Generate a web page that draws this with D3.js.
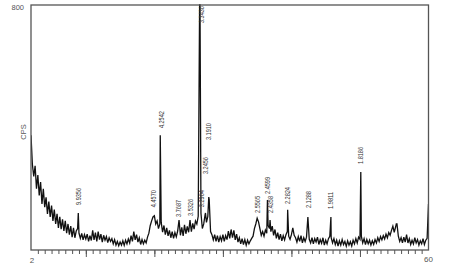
<!DOCTYPE html>
<html><head><meta charset="utf-8">
<script src="https://cdn.jsdelivr.net/npm/d3@7"></script>
<style>html,body{margin:0;padding:0;background:#fff;}svg{display:block;}</style>
</head><body>
<svg id="chart" width="453" height="266"></svg>
<script>
// ---- data (2θ in degrees, intensity in CPS) ----
const xDomain = [2, 60];
const yDomain = [0, 800];
const gridStart = 2, gridStep = 0.2;
// background pattern, one value every 0.2° (5 per degree)
const counts = [
 /*2*/ 375,280,240,275,200, /*3*/ 245,178,222,150,200, /*4*/ 140,172,118,158,108,
 /*5*/ 145,95,132,85,118, /*6*/ 72,108,68,100,62, /*7*/ 95,55,85,50,78,
 /*8*/ 42,72,40,62,70, /*9*/ 55,38,54,33,50, /*10*/ 36,52,28,47,31,
 /*11*/ 64,33,57,28,60, /*12*/ 34,52,26,48,32, /*13*/ 44,24,40,28,37,
 /*14*/ 20,34,16,28,14, /*15*/ 26,16,30,15,32, /*16*/ 20,36,23,47,28,
 /*17*/ 60,33,50,26,40, /*18*/ 18,34,20,32,23, /*19*/ 42,55,80,95,108,
 /*20*/ 112,85,95,70,85, /*21*/ 90,58,80,50,72, /*22*/ 46,64,40,60,38,
 /*23*/ 57,43,62,98,48, /*24*/ 74,46,82,53,77, /*25*/ 58,98,60,87,68,
 /*26*/ 95,85,110,800,120, /*27*/ 70,85,115,90,110, /*28*/ 165,60,50,33,50,
 /*29*/ 28,47,26,44,30, /*30*/ 50,28,47,34,62, /*31*/ 38,67,40,64,33,
 /*32*/ 52,26,40,20,37, /*33*/ 18,34,16,32,20, /*34*/ 30,38,45,70,85,
 /*35*/ 104,92,70,48,60, /*36*/ 45,65,55,80,70, /*37*/ 60,78,48,67,38,
 /*38*/ 57,34,52,30,47, /*39*/ 33,50,60,45,35, /*40*/ 50,72,48,40,26,
 /*41*/ 44,28,47,23,40, /*42*/ 28,42,108,35,23, /*43*/ 40,20,37,26,42,
 /*44*/ 18,34,22,40,16, /*45*/ 32,20,37,45,40, /*46*/ 23,37,18,32,13,
 /*47*/ 30,16,34,18,28, /*48*/ 12,30,16,27,13, /*49*/ 32,20,37,23,42,
 /*50*/ 35,45,23,37,18, /*51*/ 34,20,32,16,30, /*52*/ 18,34,23,40,28,
 /*53*/ 44,33,47,36,52, /*54*/ 40,57,48,64,78, /*55*/ 58,75,85,45,28,
 /*56*/ 40,23,42,26,50, /*57*/ 23,37,18,32,20, /*58*/ 40,23,34,16,30,
 /*59*/ 20,37,18,32,38, /*60*/ 150
];
const peakApex = [[8.9,121],[20.86,375],[26.66,800],[27.46,121],[27.94,173],
  [36.5,163],[36.88,98],[39.45,131],[45.76,108],[50.12,255],[55.3,85]];
// d-spacing labels [text, 2θ, CPS at label base]
const labelText = ["9.9356","4.4570","4.2542","3.7687","3.5326","3.3436","3.2904","3.2456","3.1910",
  "2.5565","2.4599","2.4358","2.2824","2.1288","1.9811","1.8186"];
const labelTheta = [8.86,19.85,20.97,23.49,25.2,26.95,26.88,27.46,27.94,34.98,36.54,36.98,39.4,42.46,45.73,50.08];
const labelCps = [147,140,398,108,111,741,140,248,359,121,183,121,150,137,134,281];
const minorTicks = d3.range(3, 60, 1);
const majorTicks = [10,20,30,40,50];

// ---- drawing ----
const svg = d3.select("#chart");
const x = d3.scaleLinear().domain(xDomain).range([31, 428.5]);
const y = d3.scaleLinear().domain(yDomain).range([250, 5]);

const series = counts.map((c,i)=>[gridStart + i*gridStep, c]).concat(peakApex)
  .sort((a,b)=>a[0]-b[0]);

svg.append("clipPath").attr("id","clip").append("rect")
  .attr("x",31).attr("y",4).attr("width",397.5).attr("height",246.5);

svg.append("path").datum(series)
  .attr("clip-path","url(#clip)")
  .attr("fill","none").attr("stroke","#111").attr("stroke-width",1.3)
  .attr("stroke-linejoin","miter")
  .attr("d", d3.line().x(d=>x(d[0])).y(d=>y(d[1])));

// frame
svg.append("rect").attr("x",x(2)).attr("y",y(800))
  .attr("width",x(60)-x(2)).attr("height",y(0)-y(800))
  .attr("fill","none").attr("stroke","#555").attr("stroke-width",1.3);

// ticks
const minorAxis = d3.axisBottom(x).tickValues(minorTicks).tickSize(4).tickFormat("");
const majorAxis = d3.axisBottom(x).tickValues(majorTicks).tickSize(7).tickFormat("");
[minorAxis, majorAxis].forEach(ax=>{
  const g = svg.append("g").attr("transform",`translate(0,${y(0)})`).call(ax);
  g.select(".domain").remove();
  g.selectAll("line").attr("stroke","#555").attr("stroke-width",1);
});

// axis texts
const tf = "Liberation Sans Narrow, Liberation Sans, Arial, sans-serif";
svg.append("text").attr("x",x(2)+1).attr("y",263).attr("text-anchor","middle")
  .attr("font-family",tf).attr("font-size",8).attr("fill","#555").text("2");
svg.append("text").attr("x",x(60)).attr("y",262).attr("text-anchor","middle")
  .attr("font-family",tf).attr("font-size",8).attr("fill","#555").text("60");
svg.append("text").attr("x",24).attr("y",y(800)+4.5).attr("text-anchor","end")
  .attr("font-family",tf).attr("font-size",7.5).attr("fill","#555").text("800");
svg.append("text").attr("transform","translate(25.5,132) rotate(-90)").attr("text-anchor","middle")
  .attr("font-family",tf).attr("font-size",7.5).attr("fill","#555").text("CPS");

// peak labels
svg.append("g").selectAll("text").data(labelText).join("text")
  .attr("transform",(d,i)=>`translate(${x(labelTheta[i])+2.5},${y(labelCps[i])}) rotate(-90)`)
  .attr("font-family",tf).attr("font-size",7).attr("fill","#333")
  .attr("textLength",17).attr("lengthAdjust","spacingAndGlyphs")
  .text(d=>d);
</script>
</body></html>
